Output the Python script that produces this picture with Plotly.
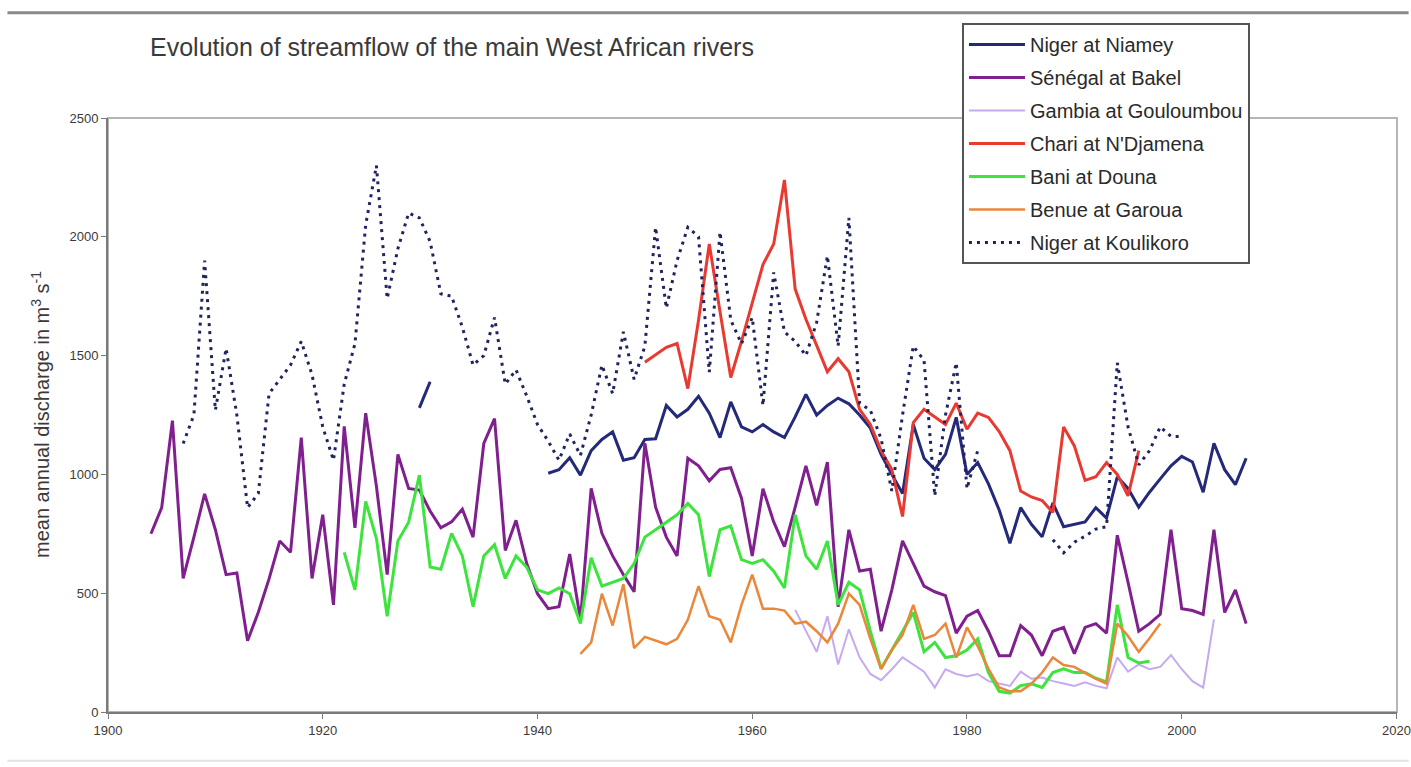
import plotly.graph_objects as go

# ---------------- data ----------------
x_ticks = [1900, 1920, 1940, 1960, 1980, 2000, 2020]
y_ticks = [0, 500, 1000, 1500, 2000, 2500]

niamey_years = list(range(1929, 2007))
niamey_vals = [1280, 1390, None, None, None, None, None, None, None, None, None, None,
               1005, 1020, 1070, 997, 1100, 1147, 1179, 1060, 1070, 1147,
               1150, 1290, 1242, 1274, 1329, 1258, 1155, 1305, 1200, 1179,
               1210, 1179, 1155, 1242, 1337, 1250, 1290, 1321, 1297, 1250,
               1195, 1084, 1000, 920, 1210, 1068, 1020, 1084, 1240, 1000,
               1050, 960, 850, 710, 860, 790, 737, 880, 780, 790,
               800, 860, 816, 990, 941, 862, 925, 981, 1036, 1076,
               1052, 925, 1131, 1020, 957, 1068]

senegal_years = list(range(1904, 2007))
senegal_vals = [750, 860, 1226, 562, 736, 918, 767, 578, 585, 300,
                420, 560, 720, 672, 1155, 562, 830, 451, 1202, 775,
                1258, 950, 578, 1084, 941, 934, 846, 775, 800, 854,
                736, 1130, 1235, 680, 807, 625, 498, 435, 443, 665,
                388, 941, 752, 657, 578, 506, 1131, 862, 736, 657,
                1068, 1036, 973, 1021, 1028, 900, 657, 940, 800, 696,
                862, 1036, 870, 1052, 443, 767, 593, 601, 340, 514,
                720, 625, 530, 506, 490, 332, 403, 427, 340, 237,
                237, 364, 324, 237, 340, 356, 245, 356, 372, 332,
                744, 546, 340, 372, 411, 767, 435, 427, 411, 767,
                419, 514, 372]

gambia_years = list(range(1964, 2004))
gambia_vals = [430, 340, 253, 403, 200, 348, 230, 160, 134, 180,
               230, 200, 170, 103, 180, 160, 150, 160, 130, 120,
               110, 170, 140, 145, 130, 120, 110, 125, 110, 100,
               230, 170, 200, 180, 190, 240, 180, 130, 103, 390]

chari_years = list(range(1950, 1997))
chari_vals = [1472, 1503, 1535, 1551, 1361, 1650, 1970, 1685, 1408, 1560,
              1717, 1883, 1970, 2239, 1780, 1653, 1543, 1432, 1487, 1432,
              1274, 1210, 1100, 1020, 823, 1218, 1274, 1242, 1210, 1300,
              1190, 1258, 1240, 1180, 1100, 930, 905, 890, 840, 1200,
              1120, 975, 990, 1050, 1000, 910, 1100]

bani_years = list(range(1922, 1998))
bani_vals = [672, 514, 886, 730, 403, 720, 799, 997, 610, 601,
             752, 657, 443, 657, 704, 562, 657, 609, 514, 498,
             522, 498, 372, 649, 530, 546, 562, 625, 736, 767,
             799, 830, 878, 830, 570, 767, 783, 641, 625, 641,
             593, 522, 830, 657, 601, 720, 451, 546, 514, 340,
             182, 261, 340, 419, 253, 293, 229, 237, 261, 308,
             166, 87, 79, 111, 119, 103, 166, 182, 166, 166,
             142, 127, 451, 229, 206, 214]

benue_years = list(range(1944, 1999))
benue_vals = [245, 293, 498, 364, 538, 269, 316, 301, 285, 308,
              388, 530, 403, 388, 293, 451, 578, 435, 435, 427,
              372, 380, 340, 293, 372, 498, 451, 308, 182, 261,
              324, 451, 308, 324, 372, 229, 356, 277, 182, 103,
              87, 87, 119, 166, 229, 198, 190, 165, 140, 119,
              372, 320, 253, 310, 372]

koulikoro_years = list(range(1907, 2001))
koulikoro_vals = [1130, 1250, 1900, 1270, 1530, 1250, 860, 920, 1340, 1400,
                  1460, 1560, 1420, 1200, 1060, 1380, 1550, 2050, 2300, 1740,
                  1950, 2100, 2080, 1980, 1760, 1750, 1620, 1460, 1500, 1660,
                  1380, 1440, 1330, 1210, 1140, 1060, 1170, 1080, 1250, 1460,
                  1340, 1600, 1400, 1540, 2040, 1700, 1900, 2040, 2000, 1430,
                  2020, 1650, 1550, 1660, 1290, 1850, 1600, 1560, 1500, 1640,
                  1920, 1540, 2080, 1300, 1270, 1150, 930, 1250, 1540, 1480,
                  910, 1250, 1470, 940, 1100, None, None, None, None, None,
                  None, 725, 670, 715, 740, 770, 780, 1470, 1200, 1040,
                  1100, 1200, 1160, 1160]

series = [
    ("Niger at Niamey", niamey_years, niamey_vals, "#24297a", "solid", 3),
    ("Sénégal at Bakel", senegal_years, senegal_vals, "#80208f", "solid", 3),
    ("Gambia at Gouloumbou", gambia_years, gambia_vals, "#c7a9f2", "solid", 2),
    ("Chari at N'Djamena", chari_years, chari_vals, "#e83a30", "solid", 3),
    ("Bani at Douna", bani_years, bani_vals, "#3ee43e", "solid", 3),
    ("Benue at Garoua", benue_years, benue_vals, "#ea873a", "solid", 2.5),
    ("Niger at Koulikoro", koulikoro_years, koulikoro_vals, "#1f2460", "3px,5px", 3),
]

fig = go.Figure()
for i, (name, xs, ys, col, dash, w) in enumerate(series):
    fig.add_trace(go.Scatter(
        x=xs, y=ys, mode="lines", name=name,
        line=dict(color=col, width=w, dash=dash),
        legendgroup="g%d" % i,
        connectgaps=False,
    ))

FONT = "Liberation Sans, Arial, sans-serif"

fig.update_layout(
    width=1411, height=767,
    margin=dict(l=108, r=14, t=118, b=55, autoexpand=False),
    paper_bgcolor="white", plot_bgcolor="white",
    font=dict(family=FONT, color="#3a3a3a"),
    showlegend=True,
    legend=dict(
        x=0.6625, y=1.16, xanchor="left", yanchor="top",
        bordercolor="#555555", borderwidth=2, bgcolor="white",
        font=dict(size=20, family=FONT, color="#2a2a2a"),
        tracegroupgap=4, itemwidth=56,
    ),
    xaxis=dict(
        range=[1900, 2020.05], tickvals=x_ticks, ticktext=[str(v) for v in x_ticks],
        showgrid=False, zeroline=False, automargin=False,
        showline=True, linecolor="#7a7a7a", linewidth=2,
        ticks="outside", ticklen=5, tickcolor="#7a7a7a", tickwidth=1,
        tickfont=dict(size=13, color="#3a3a3a"),
        ticklabeloverflow="allow",
    ),
    yaxis=dict(
        range=[0, 2500], tickvals=y_ticks,
        showgrid=False, zeroline=False, automargin=False,
        showline=True, linecolor="#7a7a7a", linewidth=2,
        ticks="outside", ticklen=5, tickcolor="#7a7a7a", tickwidth=1,
        tickfont=dict(size=13, color="#3a3a3a"),
    ),
    shapes=[
        dict(type="rect", xref="x domain", yref="y domain", x0=0, x1=1, y0=0, y1=1,
             line=dict(color="#b5b5b5", width=2), layer="below"),
        dict(type="line", xref="paper", yref="paper", x0=-0.078, x1=1.009,
             y0=1.177, y1=1.177, line=dict(color="#8a8a8a", width=3)),
        dict(type="line", xref="paper", yref="paper", x0=-0.078, x1=1.009,
             y0=-0.082, y1=-0.082, line=dict(color="#e2e2e2", width=2)),
    ],
    annotations=[
        dict(text="Evolution of streamflow of the main West African rivers",
             xref="paper", yref="paper", x=(148 - 108) / 1289, y=(712 - 47) / 594,
             xanchor="left", yanchor="middle", showarrow=False,
             font=dict(size=25, family=FONT, color="#3a3a3a")),
        dict(text="mean annual discharge in m<sup>3</sup> s<sup>-1</sup>",
             xref="paper", yref="paper", x=(40 - 108) / 1289, y=0.5,
             xanchor="center", yanchor="middle", textangle=-90, showarrow=False,
             font=dict(size=20, family=FONT, color="#3a3a3a")),
    ],
)

fig.write_html("out.html")
